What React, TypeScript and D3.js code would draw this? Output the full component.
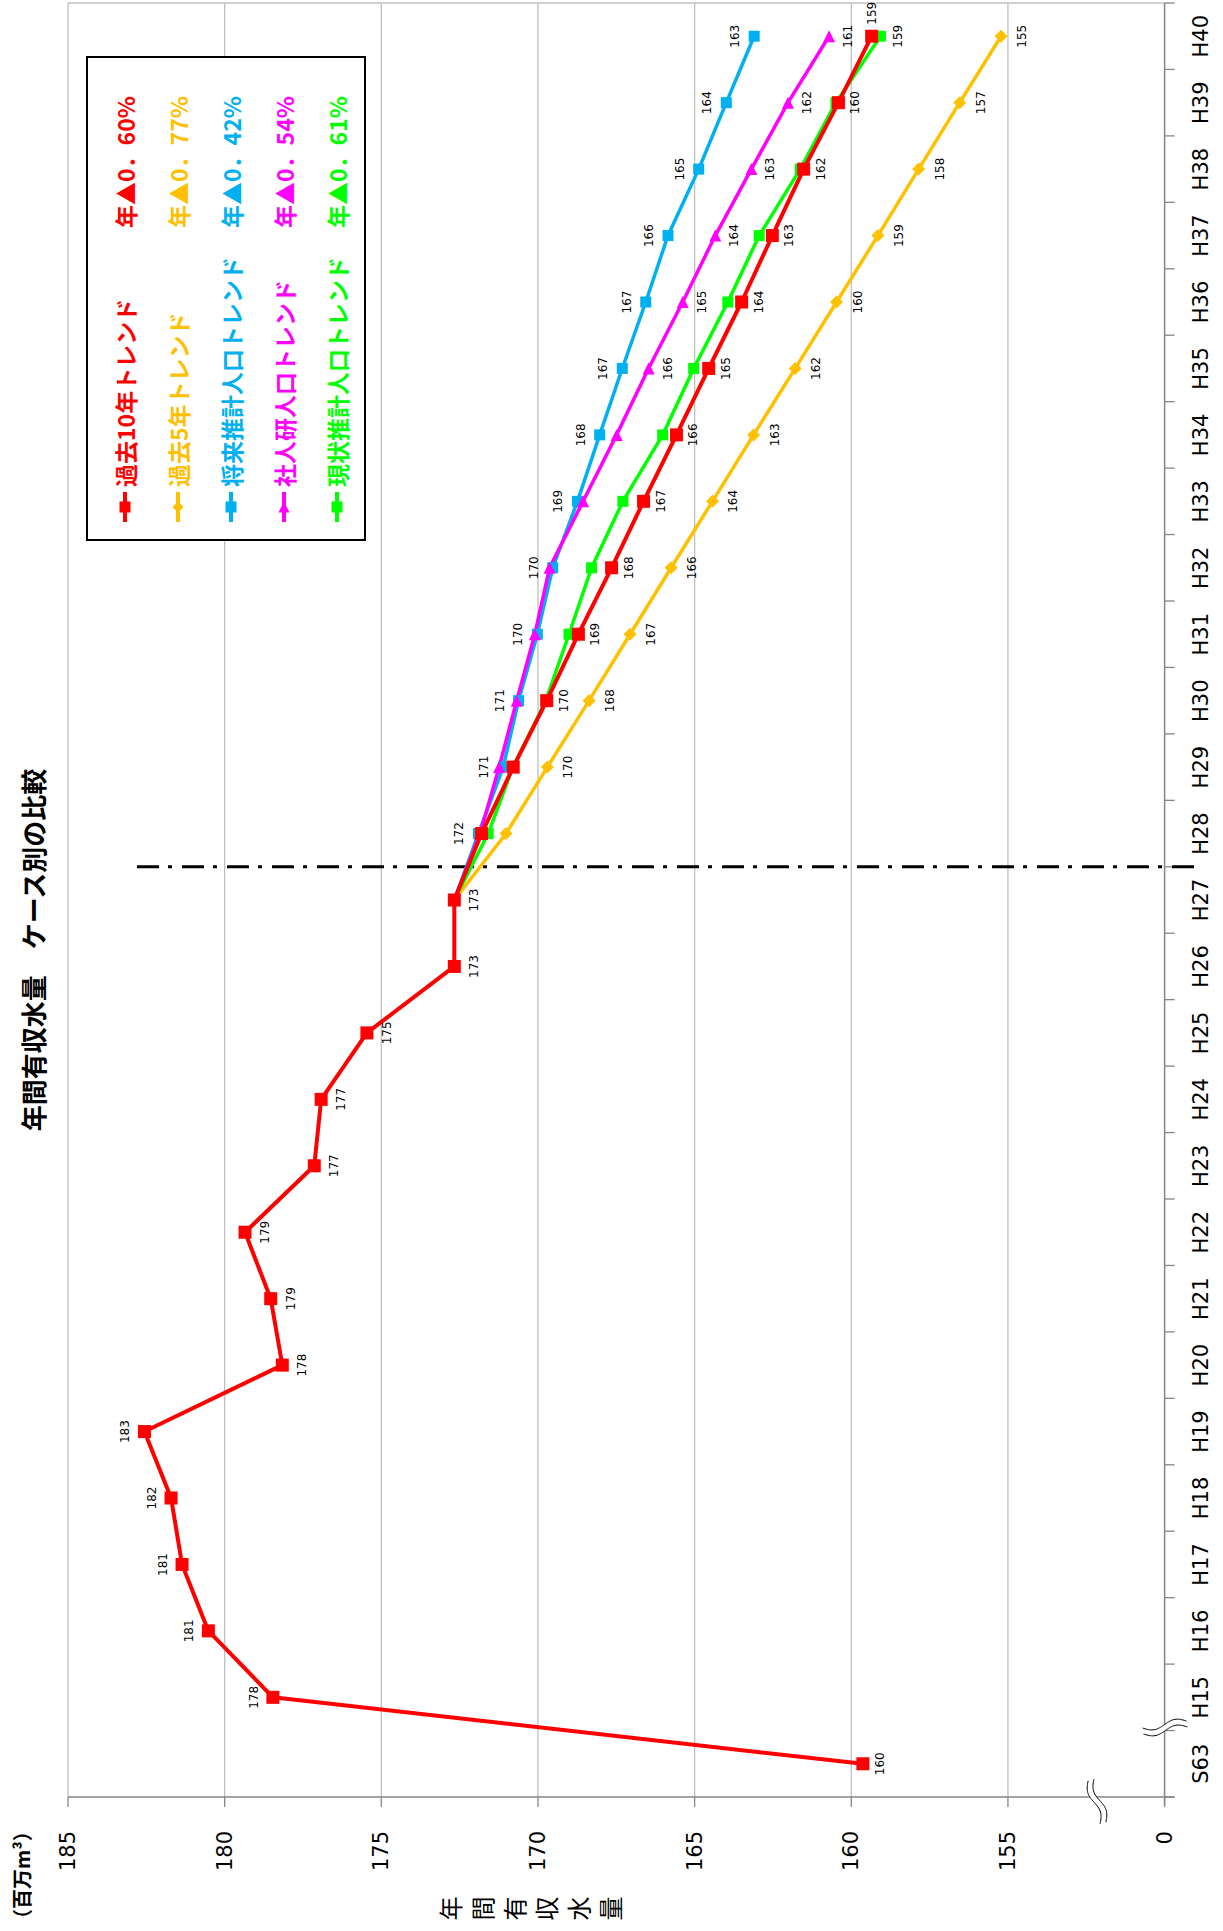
import React from 'react';
import * as d3 from 'd3';

// ---------- data ----------
const categories = ['S63','H15','H16','H17','H18','H19','H20','H21','H22','H23','H24','H25','H26','H27','H28','H29','H30','H31','H32','H33','H34','H35','H36','H37','H38','H39','H40'];
const histCategories = ['S63','H15','H16','H17','H18','H19','H20','H21','H22','H23','H24','H25','H26','H27'];
const projCategories = ['H27','H28','H29','H30','H31','H32','H33','H34','H35','H36','H37','H38','H39','H40'];

const historicalValues = [159.63, 178.46, 180.52, 181.36, 181.71, 182.56, 178.16, 178.53, 179.35, 177.14, 176.92, 175.46, 172.67, 172.67];

const trend10Values = [172.67, 171.80, 170.79, 169.72, 168.71, 167.65, 166.63, 165.58, 164.55, 163.50, 162.52, 161.52, 160.41, 159.35];
const trend5Values = [172.67, 171.02, 169.70, 168.37, 167.06, 165.75, 164.43, 163.12, 161.79, 160.47, 159.15, 157.85, 156.54, 155.22];
const futurePopValues = [172.67, 171.90, 171.11, 170.62, 170.02, 169.53, 168.74, 168.03, 167.31, 166.56, 165.85, 164.87, 163.99, 163.10];
const ipssPopValues = [172.67, 171.85, 171.24, 170.68, 170.10, 169.63, 168.56, 167.49, 166.47, 165.38, 164.34, 163.19, 162.02, 160.71];
const currentPopValues = [172.67, 171.59, 170.80, 169.75, 169.01, 168.29, 167.29, 166.02, 165.03, 163.94, 162.94, 161.63, 160.49, 159.07];

const seriesNames = ['過去10年トレンド', '過去5年トレンド', '将来推計人口トレンド', '社人研人口トレンド', '現状推計人口トレンド'];
const seriesRates = ['年▲0．60%', '年▲0．77%', '年▲0．42%', '年▲0．54%', '年▲0．61%'];
const seriesColors = ['#FF0000', '#FFC000', '#00B0F0', '#FF00FF', '#00FF00'];
const seriesShapes = ['square', 'diamond', 'square', 'triangle', 'square'];

const valueTicks = [150, 155, 160, 165, 170, 175, 180, 185];
const valueTickLabels = ['0', '155', '160', '165', '170', '175', '180', '185'];

const histLabelsLeft = ['H15', 'H16', 'H17', 'H18', 'H19'];
const trend10LabelCats = ['H30','H31','H32','H33','H34','H35','H36','H37','H38','H39','H40'];
const trend5LabelCats = ['H29','H30','H31','H32','H33','H34','H35','H36','H37','H38','H39','H40'];
const futureLabelCats = ['H28','H29','H30','H31','H32','H33','H34','H35','H36','H37','H38','H39','H40'];
const ipssLabelCats = ['H35','H36','H37','H38','H39','H40'];
const currentLabelCats = ['H40'];

const title = '年間有収水量　ケース別の比較';
const yTitle = '年間有収水量';
const unitLabel = '（百万m³）';

const NUM_FONT = '"DejaVu Sans", Verdana, sans-serif';
const JP_FONT = '"Noto Sans CJK JP", "Noto Sans", sans-serif';

function Marker({ shape, x, y, size, color }: { shape: string; x: number; y: number; size: number; color: string }) {
  const r = size / 2;
  if (shape === 'diamond') {
    return <polygon points={`${x},${y - r} ${x + r},${y} ${x},${y + r} ${x - r},${y}`} fill={color} />;
  }
  if (shape === 'triangle') {
    return <polygon points={`${x + r},${y} ${x - r},${y - r} ${x - r},${y + r}`} fill={color} />;
  }
  return <rect x={x - r} y={y - r} width={size} height={size} fill={color} />;
}

function breakMark(p0: [number, number], p1: [number, number], gap: number, amp: number) {
  const dx = p1[0] - p0[0], dy = p1[1] - p0[1];
  const len = Math.hypot(dx, dy);
  const nx = -dy / len, ny = dx / len;
  const mk = (off: number) => d3.range(0, 41).map((i) => {
    const t = i / 40;
    const w = off + amp * Math.sin(2 * Math.PI * t);
    return [p0[0] + dx * t + nx * w, p0[1] + dy * t + ny * w] as [number, number];
  });
  const a = mk(-gap / 2), b = mk(gap / 2);
  const l = d3.line();
  const fill = 'M' + a.map((p) => p.join(',')).join('L') + 'L' + b.slice().reverse().map((p) => p.join(',')).join('L') + 'Z';
  return (
    <g>
      <path d={fill} fill="#fff" stroke="none" />
      <path d={l(a) as string} fill="none" stroke="#000" strokeWidth={1} />
      <path d={l(b) as string} fill="none" stroke="#000" strokeWidth={1} />
    </g>
  );
}

export default function App() {
  const OW = 1931;
  const plotLeft = 134, plotRight = 1928, plotTop = 68, plotBottom = 1164.6;
  const x = d3.scaleBand<string>().domain(categories).range([plotLeft, plotRight]);
  const bw = x.bandwidth();
  const cx = (c: string) => (x(c) as number) + bw / 2;
  const y = d3.scaleLinear().domain([150, 185]).range([plotBottom, plotTop]);
  const line = d3.line<[string, number]>().x((d) => cx(d[0])).y((d) => y(d[1]));

  const projSeries = [
    { idx: 1, values: trend5Values, size: 13, width: 3.5, labelCats: trend5LabelCats, off: 21 },
    { idx: 2, values: futurePopValues, size: 11, width: 3.5, labelCats: futureLabelCats, off: -19 },
    { idx: 3, values: ipssPopValues, size: 12, width: 3.5, labelCats: ipssLabelCats, off: 19 },
    { idx: 4, values: currentPopValues, size: 11, width: 3.5, labelCats: currentLabelCats, off: 18 },
    { idx: 0, values: trend10Values, size: 13, width: 4, labelCats: trend10LabelCats, off: 17 },
  ];

  const boundaries = d3.range(0, categories.length + 1).map((i) => plotLeft + i * bw);
  const dashX = x('H28') as number;

  return (
    <svg width={1223} height={1931} style={{ position: 'absolute', left: 0, top: 0, background: '#fff' }}>
      <rect width={1223} height={1931} fill="#fff" />
      <g transform={`translate(0,${OW}) rotate(-90)`}>
        {/* gridlines */}
        {valueTicks.filter((v) => v > 150).map((v) => (
          <line key={'g' + v} x1={plotLeft} x2={plotRight} y1={y(v)} y2={y(v)} stroke="#BFBFBF" strokeWidth={1.3} />
        ))}
        <line x1={plotRight} x2={plotRight} y1={plotTop} y2={plotBottom} stroke="#BFBFBF" strokeWidth={1.3} />

        {/* value axis */}
        <line x1={plotLeft} x2={plotLeft} y1={plotTop} y2={plotBottom + 10} stroke="#868686" strokeWidth={1.5} />
        {valueTicks.map((v) => (
          <line key={'vt' + v} x1={plotLeft - 10} x2={plotLeft} y1={y(v)} y2={y(v)} stroke="#868686" strokeWidth={1.3} />
        ))}
        {valueTicks.map((v, i) => (
          <text key={'vl' + v} x={100} y={y(v)} textAnchor="end" dominantBaseline="central" fontFamily={NUM_FONT} fontSize={21} fill="#000">
            {valueTickLabels[i]}
          </text>
        ))}

        {/* category axis */}
        <line x1={plotLeft - 8} x2={plotRight} y1={plotBottom} y2={plotBottom} stroke="#868686" strokeWidth={1.5} />
        {boundaries.map((b, i) => (
          <line key={'ct' + i} x1={b} x2={b} y1={plotBottom} y2={plotBottom + 10} stroke="#868686" strokeWidth={1.3} />
        ))}
        {categories.map((c) => (
          <text key={'cl' + c} x={cx(c)} y={1201} textAnchor="middle" dominantBaseline="central" fontFamily={NUM_FONT} fontSize={21} fill="#000">
            {c}
          </text>
        ))}

        {/* axis breaks */}
        {breakMark([108, 1103], [151, 1091], 6, 3.5)}
        {breakMark([200, 1143], [207, 1187], 6, 3.5)}

        {/* dash-dot divider */}
        <line x1={dashX} x2={dashX} y1={137} y2={1198} stroke="#000" strokeWidth={3} strokeDasharray="22 9 4 10" />

        {/* projection series */}
        {projSeries.map((s) => (
          <path key={'p' + s.idx} d={line(projCategories.map((c, i) => [c, s.values[i]] as [string, number])) as string}
            fill="none" stroke={seriesColors[s.idx]} strokeWidth={s.width} strokeLinejoin="round" />
        ))}
        {/* historical red */}
        <path d={line(histCategories.map((c, i) => [c, historicalValues[i]] as [string, number])) as string}
          fill="none" stroke={seriesColors[0]} strokeWidth={4} strokeLinejoin="round" />

        {projSeries.map((s) => (
          <g key={'m' + s.idx}>
            {projCategories.slice(1).map((c, i) => (
              <Marker key={c} shape={seriesShapes[s.idx]} x={cx(c)} y={y(s.values[i + 1])} size={s.size} color={seriesColors[s.idx]} />
            ))}
          </g>
        ))}
        {histCategories.map((c, i) => (
          <Marker key={'hm' + c} shape="square" x={cx(c)} y={y(historicalValues[i])} size={13} color={seriesColors[0]} />
        ))}

        {/* data labels */}
        {histCategories.map((c, i) => {
          const left = histLabelsLeft.includes(c);
          return (
            <text key={'hl' + c} x={cx(c)} y={y(historicalValues[i]) + (left ? -19 : c === 'S63' ? 17 : 20)}
              textAnchor="middle" dominantBaseline="central" fontFamily={NUM_FONT} fontSize={12} fill="#000">
              {Math.round(historicalValues[i])}
            </text>
          );
        })}
        {projSeries.map((s) => (
          <g key={'l' + s.idx}>
            {projCategories.map((c, i) => {
              if (!s.labelCats.includes(c)) return null;
              const special = s.idx === 0 && c === 'H40';
              return (
                <text key={c} x={cx(c) + (special ? 23 : 0)} y={y(s.values[i]) + (special ? 0 : s.off)}
                  textAnchor="middle" dominantBaseline="central" fontFamily={NUM_FONT} fontSize={12} fill="#000">
                  {Math.round(s.values[i])}
                </text>
              );
            })}
          </g>
        ))}

        {/* legend */}
        <rect x={1391} y={87} width={483} height={278} fill="#fff" stroke="#000" strokeWidth={2} />
        {seriesNames.map((n, i) => {
          const ly = 125 + i * 53;
          return (
            <g key={'lg' + i}>
              <line x1={1409} x2={1439} y1={ly} y2={ly} stroke={seriesColors[i]} strokeWidth={4} />
              <Marker shape={seriesShapes[i]} x={1424} y={ly} size={11} color={seriesColors[i]} />
              <text x={1444} y={ly} dominantBaseline="central" fontFamily={JP_FONT} fontWeight={700} fontSize={23} fill={seriesColors[i]}>{n}</text>
              <text x={1703} y={ly} dominantBaseline="central" fontFamily={JP_FONT} fontWeight={700} fontSize={23} fill={seriesColors[i]}>{seriesRates[i]}</text>
            </g>
          );
        })}

        {/* titles */}
        <text x={981} y={32} textAnchor="middle" dominantBaseline="central" fontFamily={JP_FONT} fontWeight={700} fontSize={26} fill="#000">{title}</text>
        <text x={2} y={21} dominantBaseline="central" fontFamily={JP_FONT} fontWeight={700} fontSize={20} fill="#000">{unitLabel}</text>
        {yTitle.split('').map((ch, i) => (
          <text key={'yt' + i} x={22.5} y={449 + i * 32} textAnchor="middle" dominantBaseline="central" fontFamily={JP_FONT} fontSize={24} fill="#000">{ch}</text>
        ))}
      </g>
    </svg>
  );
}
